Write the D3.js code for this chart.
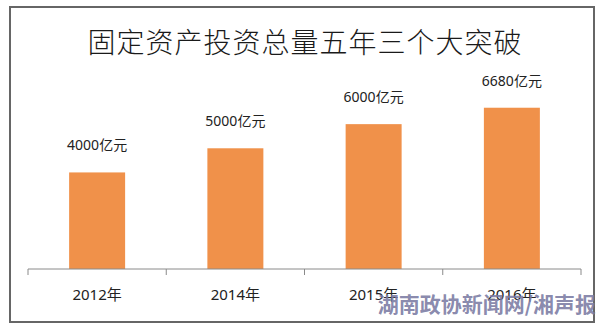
<!DOCTYPE html>
<html lang="zh">
<head>
<meta charset="utf-8">
<title>固定资产投资</title>
<script type="text/javascript" src="https://d3js.org/d3.v7.min.js"></script>
<style>
body { margin: 0; background: #fff; }
.bar { fill: #f0914a; }
.label { font-family: "Noto Sans", "Noto Sans CJK SC", sans-serif; font-size: 14px; fill: #222; }
.axis path, .axis line { stroke: #8a8a8a; stroke-width: 1; }
</style>
</head>
<body>
<div id="chart"></div>
<script type="text/javascript">

// chart values
var years = ["2012年", "2014年", "2015年", "2016年"];
var amounts = [4000, 5000, 6000, 6680];
var valueLabels = ["4000亿元", "5000亿元", "6000亿元", "6680亿元"];

var w = 600, h = 326;

var svg = d3.select("#chart").append("svg")
            .attr("width", w)
            .attr("height", h);

// outer frame
svg.append("rect")
   .attr("x", 10).attr("y", 7)
   .attr("width", 584).attr("height", 315)
   .attr("fill", "none")
   .attr("stroke", "#666")
   .attr("stroke-width", 2);

// title
svg.append("text")
   .attr("x", 305).attr("y", 53)
   .attr("text-anchor", "middle")
   .style("font-family", "'Noto Sans CJK SC', sans-serif")
   .style("font-size", "28px")
   .style("font-weight", 300)
   .style("letter-spacing", "1px")
   .style("fill", "#1a1a1a")
   .text("固定资产投资总量五年三个大突破");

var x = d3.scaleBand()
          .domain(years)
          .range([28, 581])
          .padding(0);

var y = d3.scaleLinear()
          .domain([0, 7000])
          .range([269, 100]);

var barW = x.bandwidth() * 0.405;

svg.selectAll("rect.bar")
   .data(amounts)
   .enter()
   .append("rect")
   .attr("class", "bar")
   .attr("x", function(d, i) { return x(years[i]) + (x.bandwidth() - barW) / 2; })
   .attr("y", function(d) { return y(d); })
   .attr("width", barW)
   .attr("height", function(d) { return y(0) - y(d); });

svg.selectAll("text.label")
   .data(amounts)
   .enter()
   .append("text")
   .attr("class", "label")
   .attr("text-anchor", "middle")
   .attr("x", function(d, i) { return x(years[i]) + x.bandwidth() / 2; })
   .attr("y", function(d) { return y(d) - 22; })
   .text(function(d, i) { return valueLabels[i]; });

// x axis: ticks sit on the band edges
var edges = x.domain().map(function(d) { return x(d); }).concat([x.range()[1]]);
var axisG = svg.append("g")
   .attr("class", "axis")
   .attr("transform", "translate(0,269)");

axisG.append("line")
     .attr("x1", x.range()[0]).attr("x2", x.range()[1])
     .attr("y1", 0).attr("y2", 0);

axisG.selectAll("line.tick")
     .data(edges)
     .enter()
     .append("line")
     .attr("class", "tick")
     .attr("x1", function(d) { return d; })
     .attr("x2", function(d) { return d; })
     .attr("y1", 0).attr("y2", 6);

axisG.selectAll("text")
     .data(years)
     .enter()
     .append("text")
     .attr("class", "label")
     .style("font-size", "15px")
     .attr("text-anchor", "middle")
     .attr("x", function(d) { return x(d) + x.bandwidth() / 2; })
     .attr("y", 31)
     .text(function(d) { return d; });

// watermark
svg.append("text")
   .attr("x", 596).attr("y", 312)
   .attr("text-anchor", "end")
   .style("font-family", "'Noto Sans CJK SC', sans-serif")
   .style("font-size", "21px")
   .style("font-weight", "bold")
   .style("fill", "#7b7ba3")
   .style("fill-opacity", 0.9)
   .text("湖南政协新闻网/湘声报");

</script>
</body>
</html>
